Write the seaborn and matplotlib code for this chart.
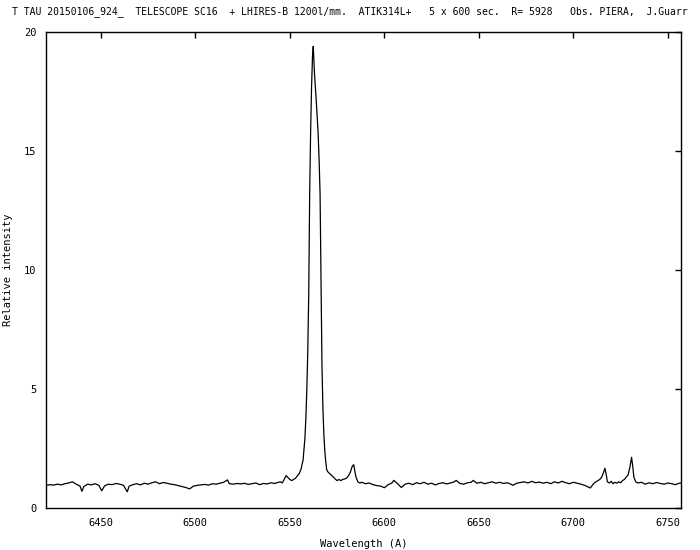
import numpy as np
import pandas as pd
import matplotlib
matplotlib.use("Agg")
import matplotlib.pyplot as plt
import seaborn as sns

# spectrum: wavelength (A) and relative intensity
# continuum blue side
wave_blue = [6421, 6423, 6425, 6427, 6429, 6431, 6433, 6435, 6437, 6439, 6440, 6441,
             6443, 6445, 6447, 6449, 6450.5, 6452, 6454, 6456, 6458, 6460, 6462, 6464,
             6465, 6467, 6469, 6471, 6473, 6475, 6477, 6479, 6481, 6483, 6485, 6487,
             6489, 6491, 6493, 6495, 6497, 6499, 6501, 6503, 6505, 6507, 6509, 6511,
             6513, 6515, 6517, 6518, 6520, 6522, 6524, 6526, 6528, 6530, 6532, 6534,
             6536, 6538, 6540, 6542, 6544]
flux_blue = [0.95, 0.98, 0.96, 1.00, 0.97, 1.02, 1.05, 1.10, 1.00, 0.92, 0.70, 0.90,
             1.00, 0.97, 1.02, 0.95, 0.72, 0.93, 1.00, 0.98, 1.03, 1.00, 0.95, 0.68,
             0.92, 0.98, 1.02, 0.97, 1.04, 1.00, 1.06, 1.10, 1.02, 1.07, 1.04, 1.00,
             0.98, 0.94, 0.90, 0.86, 0.80, 0.92, 0.95, 0.97, 0.99, 0.96, 1.02, 1.00,
             1.04, 1.08, 1.18, 1.02, 1.00, 1.03, 1.01, 1.04, 0.99, 1.02, 1.05, 0.98,
             1.03, 1.01, 1.06, 1.03, 1.08]

# H-alpha + [NII] region
wave_ha = [6545, 6546, 6547, 6548, 6549, 6550, 6551, 6552, 6553, 6554, 6555, 6556,
           6556.5, 6557, 6557.5, 6558, 6558.5, 6559, 6559.5, 6560, 6560.5, 6561, 6561.5,
           6562, 6562.4, 6563, 6563.5, 6564, 6564.5, 6565, 6565.5, 6566, 6566.5, 6567,
           6567.5, 6568, 6568.5, 6569, 6569.5, 6570, 6571, 6572, 6573, 6574, 6575,
           6576, 6577, 6578, 6579, 6580, 6581, 6582, 6583, 6583.8, 6584.5, 6585, 6586,
           6587, 6588]
flux_ha = [1.10, 1.05, 1.20, 1.36, 1.28, 1.20, 1.15, 1.20, 1.25, 1.35, 1.45, 1.65,
           1.85, 2.00, 2.45, 2.95, 3.80, 5.00, 6.60, 9.00, 13.2, 15.8, 17.7,
           19.0, 19.4, 18.3, 17.7, 17.1, 16.4, 15.7, 14.6, 13.2, 9.50, 6.00,
           4.20, 3.10, 2.40, 1.95, 1.62, 1.53, 1.45, 1.38, 1.30, 1.22, 1.15,
           1.20, 1.15, 1.20, 1.22, 1.25, 1.35, 1.50, 1.75, 1.82, 1.50, 1.30, 1.10,
           1.05, 1.08]

# continuum red side + [SII] doublet
wave_red = [6590, 6592, 6594, 6596, 6598, 6600, 6602, 6604, 6605, 6607, 6609, 6611,
            6613, 6615, 6617, 6619, 6621, 6623, 6625, 6627, 6629, 6631, 6633, 6635,
            6637, 6638, 6640, 6642, 6644, 6646, 6647, 6649, 6651, 6653, 6655, 6657,
            6659, 6661, 6663, 6665, 6667, 6668, 6670, 6672, 6674, 6676, 6678, 6680,
            6682, 6684, 6686, 6688, 6690, 6692, 6694, 6696, 6698, 6700, 6702, 6704,
            6706, 6708, 6709, 6710, 6711, 6712, 6713, 6714, 6715, 6716, 6716.7, 6717.5,
            6718, 6719, 6720, 6721, 6722, 6723, 6724, 6725, 6726, 6727, 6728, 6729,
            6730, 6730.8, 6731.5, 6732, 6733, 6734, 6736, 6738, 6740, 6742, 6744, 6746,
            6748, 6750, 6752, 6754, 6756, 6757]
flux_red = [1.02, 1.05, 0.98, 0.94, 0.92, 0.85, 0.98, 1.05, 1.16, 1.02, 0.86, 1.00,
            1.04, 0.98, 1.06, 1.02, 1.08, 1.00, 1.04, 0.97, 1.03, 1.06, 1.01, 1.05,
            1.10, 1.16, 1.03, 1.00, 1.06, 1.08, 1.16, 1.04, 1.08, 1.02, 1.06, 1.10,
            1.04, 1.08, 1.03, 1.06, 1.00, 0.95, 1.04, 1.07, 1.10, 1.05, 1.12, 1.06,
            1.09, 1.04, 1.08, 1.02, 1.10, 1.05, 1.12, 1.06, 1.02, 1.08, 1.04, 1.00,
            0.95, 0.88, 0.84, 0.95, 1.05, 1.10, 1.15, 1.20, 1.30, 1.50, 1.67, 1.35,
            1.10, 1.05, 1.12, 1.02, 1.08, 1.04, 1.10, 1.06, 1.15, 1.20, 1.30, 1.40,
            1.75, 2.13, 1.70, 1.30, 1.10, 1.05, 1.08, 1.00, 1.06, 1.02, 1.07, 1.03,
            1.00, 1.05, 1.02, 0.98, 1.04, 1.05]

xticks = [6450, 6500, 6550, 6600, 6650, 6700, 6750]
yticks = [0, 5, 10, 15, 20]

# header as far as it is visible in the reference
title = ("T TAU 20150106_924_  TELESCOPE SC16  + LHIRES-B 1200l/mm.  ATIK314L+   "
         "5 x 600 sec.  R= 5928   Obs. PIERA,  J.Guarr")

df = pd.DataFrame({"wave": wave_blue + wave_ha + wave_red,
                   "flux": flux_blue + flux_ha + flux_red})

sns.set_style("white")
plt.rcParams['font.family'] = ['DejaVu Sans Mono']
plt.rcParams['text.color'] = 'black'
plt.rcParams['axes.labelcolor'] = 'black'

fig = plt.figure(figsize=(7, 5.5), dpi=100)
ax = fig.add_axes([0.0657, 0.0764, 0.9073, 0.8654])
sns.lineplot(data=df, x="wave", y="flux", ax=ax, color="black", linewidth=0.9)

ax.set_xlim(6421, 6757)
ax.set_ylim(0, 20)
ax.set_xticks(xticks)
ax.set_yticks(yticks)
ax.tick_params(direction="in", length=4, width=1, top=True, right=True,
               labelsize=7.5, pad=7, colors="black")
for s in ax.spines.values():
    s.set_color("black")
    s.set_linewidth(1)
ax.set_xlabel("Wavelength (A)", fontsize=7.5, labelpad=8)
ax.set_ylabel("Relative intensity", fontsize=7.5, labelpad=8)
fig.text(12 / 700, 1 - 12 / 550, title, fontsize=7.0, va="center", ha="left")

fig.savefig("out.png", dpi=100)
